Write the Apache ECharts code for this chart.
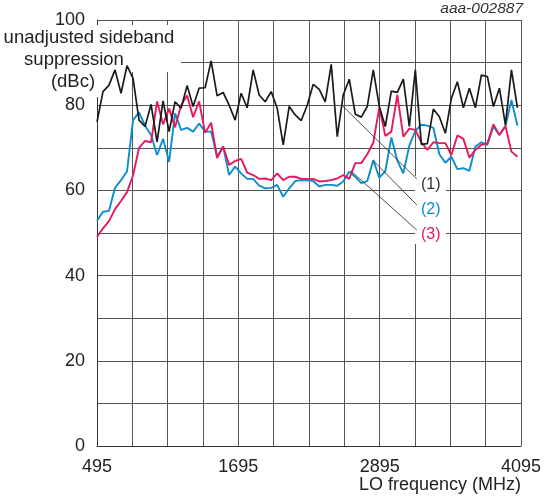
<!DOCTYPE html>
<html><head><meta charset="utf-8">
<script src="https://cdn.jsdelivr.net/npm/echarts@6/dist/echarts.min.js"></script>
<style>html,body{margin:0;padding:0;background:#fff}#c{width:544px;height:498px}</style>
</head><body><div id="c"></div>
<script>
// LO frequency (MHz) of each measured point
const freqMHz = [495,546,597,648,699,750,801,852,903,954,1005,1056,1107,1158,1209,1260,1311,1362,1413,1464,1515,1566,1617,1668,1719,1770,1821,1872,1923,1974,2025,2076,2127,2178,2229,2280,2331,2382,2433,2484,2535,2586,2637,2688,2739,2790,2841,2892,2943,2994,3045,3096,3147,3198,3249,3300,3351,3402,3453,3504,3555,3606,3657,3708,3759,3810,3861,3912,3963,4014,4065];
// (1) black
const series1 = [76.1,83.2,84.7,88.3,82.8,89.3,86.3,76.5,75.0,80.2,71.4,81.0,73.8,80.8,79.3,84.6,79.7,84.0,84.1,90.4,82.2,83.0,80.0,76.5,82.8,79.4,88.3,82.4,80.8,83.2,79.3,70.7,79.7,77.7,76.4,80.0,84.9,83.7,80.8,89.6,72.6,82.4,86.1,77.9,77.2,79.7,88.3,79.7,75.0,83.3,83.0,86.1,75.0,88.3,70.8,71.0,79.1,77.3,73.4,81.6,85.5,79.4,84.0,79.4,87.1,86.7,79.7,84.0,75.4,88.3,79.4];
// (2) blue
const series2 = [52.9,55.0,55.2,60.6,62.4,64.5,76.5,78.3,75.2,73.0,68.3,72.1,66.7,78.1,74.2,74.7,73.8,75.7,73.8,73.8,67.9,70.3,63.6,65.6,64.0,62.7,62.7,61.1,60.5,60.6,61.3,58.5,60.5,62.2,62.4,62.4,62.2,60.9,61.3,61.3,61.1,62.1,64.4,63.2,61.7,62.2,67.1,63.0,64.5,72.4,67.0,64.0,70.5,74.0,75.4,75.2,74.7,68.5,66.5,67.9,65.0,65.2,64.6,70.3,71.3,70.7,75.0,73.0,75.1,81.2,75.2];
// (3) pink
const series3 = [49.1,51.1,52.8,55.6,57.5,59.6,63.5,70.0,71.6,71.3,80.9,75.5,79.2,74.8,80.0,82.3,77.2,80.9,73.5,75.9,67.6,70.3,66.0,66.9,67.4,64.2,63.6,62.7,62.8,62.4,64.0,62.4,63.2,63.2,62.7,62.7,62.7,62.1,62.2,62.4,62.8,63.6,62.7,66.4,66.4,68.5,71.2,79.5,72.8,73.8,82.4,72.6,74.5,74.2,71.3,69.5,71.3,71.1,71.1,68.3,72.9,72.1,67.7,69.5,70.7,71.0,75.5,73.0,75.1,69.1,67.9];
const xTickLabels = [495, 1695, 2895, 4095];
const yTickLabels = [0, 20, 40, 60, 80, 100];
// leader lines: [start freq, start dBc] -> [end freq, end dBc]
const leaderFrom = [[2574, 80.0], [2844, 66.9], [2650, 64.6]];
const leaderTo = [[3210, 62.7], [3210, 56.6], [3210, 50.7]];
const seriesNames = ['(1)', '(2)', '(3)'];

const FONT = '"Liberation Sans", Arial, Helvetica, sans-serif';
const colBlack = '#1a1a1a', colBlue = '#0b8dcf', colPink = '#e8185c';
const zip = (xs, ys) => xs.map((x, i) => [x, ys[i]]);

function txt(text, x, y, align, size, color, extra) {
  return {
    type: 'text', x: x, y: y, z: 5,
    style: Object.assign({
      text: text, fontSize: size, fontFamily: FONT, fill: color,
      align: align, verticalAlign: 'middle',
      textAlign: align, textVerticalAlign: 'middle'
    }, extra || {})
  };
}

const chart = echarts.init(document.getElementById('c'), null, {renderer: 'canvas'});
chart.setOption({
  animation: false,
  backgroundColor: '#fff',
  grid: {left: 97, top: 20, width: 426, height: 426, containLabel: false},
  xAxis: {
    type: 'value', min: 495, max: 4095, interval: 300,
    axisLine: {show: true, lineStyle: {color: '#333', width: 1}},
    axisTick: {show: false},
    splitLine: {show: true, lineStyle: {color: '#555', width: 1}},
    axisLabel: {
      margin: 12, fontSize: 18, fontFamily: FONT, color: '#222',
      formatter: v => xTickLabels.includes(Math.round(v)) ? String(Math.round(v)) : ''
    }
  },
  yAxis: {
    type: 'value', min: 0, max: 100, interval: 10,
    axisLine: {show: true, lineStyle: {color: '#333', width: 1}},
    axisTick: {show: false},
    splitLine: {show: true, lineStyle: {color: '#555', width: 1}},
    axisLabel: {
      margin: 12, fontSize: 18, fontFamily: FONT, color: '#222', padding: [3, 0, 0, 0],
      formatter: v => yTickLabels.includes(Math.round(v)) ? String(Math.round(v)) : ''
    }
  },
  series: [
    {name: seriesNames[1], type: 'line', data: zip(freqMHz, series2), symbol: 'none',
     lineStyle: {color: colBlue, width: 1.9}, z: 3},
    {name: seriesNames[2], type: 'line', data: zip(freqMHz, series3), symbol: 'none',
     lineStyle: {color: colPink, width: 1.9}, z: 3},
    {name: seriesNames[0], type: 'line', data: zip(freqMHz, series1), symbol: 'none',
     lineStyle: {color: colBlack, width: 1.7}, z: 3,
     markLine: {
       silent: true, symbol: ['none', 'none'], animation: false,
       lineStyle: {color: '#222', width: 0.8, type: 'solid'},
       label: {show: false}, emphasis: {disabled: true},
       data: leaderFrom.map((p, i) => [{coord: p}, {coord: leaderTo[i]}])
     }}
  ],
  graphic: {elements: [
    {type: 'rect', z: 1, shape: {x: 0, y: 25, width: 181, height: 47}, style: {fill: '#fff'}},
    {type: 'rect', z: 1, shape: {x: 45, y: 72, width: 55, height: 25}, style: {fill: '#fff'}},
    {type: 'rect', z: 1, shape: {x: 415, y: 176, width: 31, height: 68}, style: {fill: '#fff'}},
    txt('unadjusted sideband', 89, 38, 'center', 18.5, '#222'),
    txt('suppression', 74, 60, 'center', 18.5, '#222'),
    txt('(dBc)', 73, 82, 'center', 18.5, '#222'),
    txt(seriesNames[0], 421, 185, 'left', 16, '#333'),
    txt(seriesNames[1], 421, 210, 'left', 16, colBlue),
    txt(seriesNames[2], 421, 235, 'left', 16, colPink),
    txt('LO frequency (MHz)', 521, 485, 'right', 18, '#222'),
    txt('aaa-002887', 523, 9, 'right', 15.5, '#333', {fontStyle: 'italic'})
  ]}
});
</script>
</body></html>
